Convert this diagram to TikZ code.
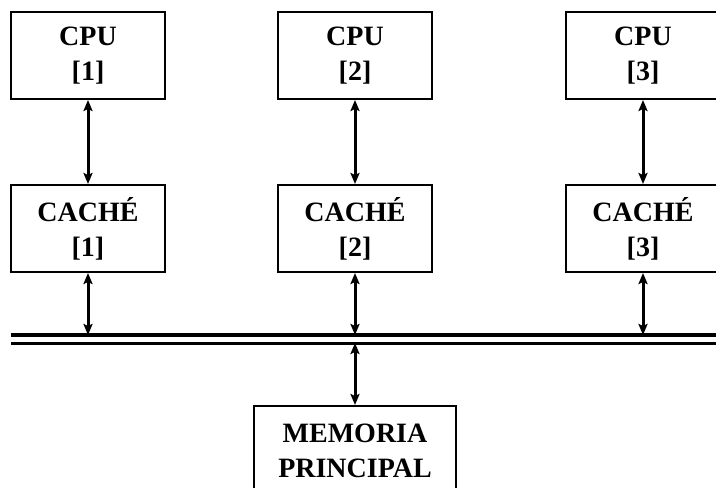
\documentclass[tikz,border=0pt]{standalone}
\usepackage{fontspec}
\setmainfont{Liberation Serif}
\usetikzlibrary{positioning,calc,arrows.meta}

\begin{document}
\begin{tikzpicture}[x=1pt, y=-1pt,
    unit/.style={draw, rectangle, line width=2pt, minimum width=154pt, minimum height=87pt, inner sep=0pt, align=center, font=\fontsize{28}{35}\selectfont\bfseries, execute at begin node=\rule{0pt}{26pt}},
    link/.style={{Stealth[length=11pt,width=9pt,inset=2pt]}-{Stealth[length=11pt,width=9pt,inset=2pt]}, line width=3pt},
    bus/.style={line width=#1}
]
    \useasboundingbox (0,0) rectangle (716,488);

    \node [unit] (cpu1) at (88,55.5) {CPU\\{[1]}};
    \node [unit] (cpu2) at (355,55.5) {CPU\\{[2]}};
    \node [unit] (cpu3) at (643,55.5) {CPU\\{[3]}};

    \node [unit] (cache1) at (88,228.5) {CACHÉ\\{[1]}};
    \node [unit] (cache2) at (355,228.5) {CACHÉ\\{[2]}};
    \node [unit] (cache3) at (643,228.5) {CACHÉ\\{[3]}};

    \node [unit, minimum width=202pt, minimum height=90pt] (mem) at (355,451) {MEMORIA\\PRINCIPAL};

    % bus
    \coordinate (upw) at (11,335);
    \coordinate (upe) at (740,335);
    \coordinate (lowa) at (11,343);
    \coordinate (lowe) at (740,343);
    \draw [bus=3.6pt] (upw) -- (upe);
    \draw [bus=3pt] (lowa) -- (lowe);

    \coordinate (tap1) at (88,335);
    \coordinate (tap2) at (355,335);
    \coordinate (tap3) at (643,335);
    \coordinate (tapm) at (355,343);

    \draw [link] (cpu1) -- (cache1);
    \draw [link] (cpu2) -- (cache2);
    \draw [link] (cpu3) -- (cache3);
    \draw [link] (cache1) -- (tap1);
    \draw [link] (cache2) -- (tap2);
    \draw [link] (cache3) -- (tap3);
    \draw [link] (tapm) -- (mem);
\end{tikzpicture}
\end{document}
